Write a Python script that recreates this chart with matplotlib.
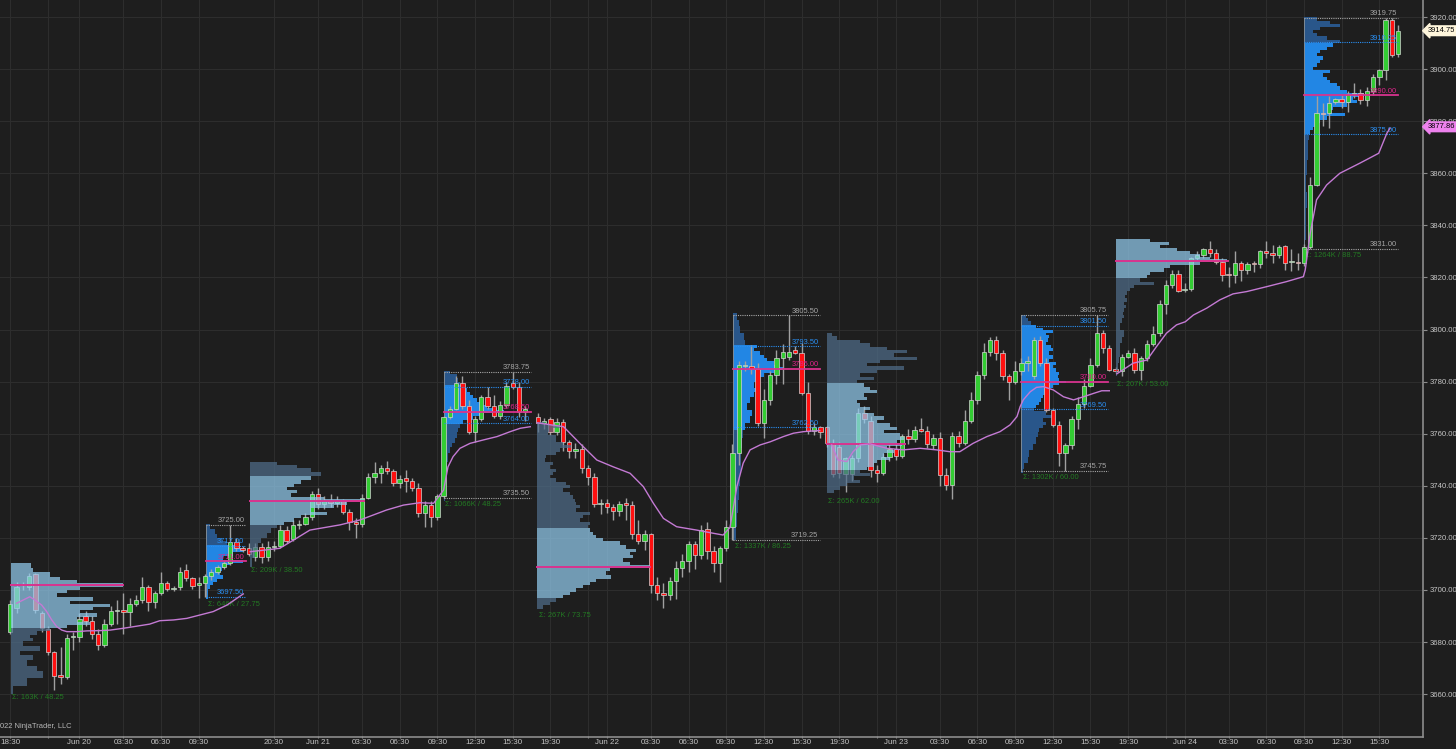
import numpy as np
import matplotlib.pyplot as plt

plt.rcParams['font.family'] = ['Liberation Sans', 'DejaVu Sans']

# ---------------- 30 minute bars (slot 83 is empty) ----------------
opens = [3684, 3693, 3702, 3701, 3706, 3691, 3685, 3676, 3667.5, 3666.5,
         3682, 3682, 3690, 3688, 3683, 3679, 3687, 3692, 3692.5, 3691.5,
         3694.5, 3696, 3701, 3695.5, 3699, 3702.5, 3700.5, 3701, 3707.5, 3704.5,
         3702, 3702.5, 3705.5, 3707, 3709, 3710.5, 3718.5, 3716, 3716, 3712.5,
         3716.5, 3712.5, 3716.5, 3717, 3723, 3719.5, 3725, 3725.5, 3728, 3737,
         3733, 3734, 3733.5, 3734, 3730, 3726, 3725.5, 3735.5, 3743.5, 3745,
         3747, 3745.5, 3741, 3743, 3742, 3739, 3729.5, 3732.5, 3728, 3736,
         3766.5, 3769.5, 3779.5, 3770.5, 3760.5, 3765.5, 3774, 3770.5, 3767, 3771,
         3779.5, 3778, 3768.5, np.nan, 3766.5, 3764, 3765.5, 3760.5, 3764.5, 3757,
         3753.5, 3754, 3747, 3743.5, 3733, 3733.5, 3732, 3730.5, 3733.5, 3732.5,
         3721.5, 3719, 3721.5, 3702, 3699, 3698, 3703.5, 3708.5, 3711, 3717.5,
         3713.5, 3723.5, 3715, 3710.5, 3716, 3724, 3752.5, 3786, 3786, 3785,
         3764, 3773, 3782.5, 3789, 3789.5, 3792, 3791, 3775.5, 3761, 3762.5,
         3762.5, 3756.5, 3755, 3744.5, 3744.5, 3750.5, 3768, 3765, 3746, 3745,
         3751, 3754, 3751.5, 3759, 3758, 3762, 3761, 3755.5, 3758.5, 3744,
         3740.5, 3759, 3756.5, 3765, 3773, 3782.5, 3791.5, 3796, 3791, 3782,
         3780, 3784, 3787, 3782, 3796, 3787, 3769, 3763.5, 3752.5, 3755.5,
         3765.5, 3771.5, 3778.5, 3786.5, 3798.5, 3793, 3785, 3784, 3789.5, 3791,
         3784.5, 3789, 3794.5, 3798.5, 3810, 3817, 3821.5, 3815.25, 3815.5, 3827.5,
         3828.5, 3830.75, 3829.5, 3826, 3821.5, 3821, 3825.5, 3823, 3825.5, 3825,
         3830, 3829.5, 3828.5, 3832, 3826, 3826, 3825.5, 3831.75, 3855.5, 3883.25,
         3883, 3887.5, 3888.5, 3887.5, 3890.5, 3891, 3888, 3891.5, 3897, 3899.5,
         3919, 3906]
highs = [3696, 3703, 3703, 3706.5, 3706.5, 3692, 3686, 3676.5, 3678, 3683,
         3684, 3691, 3692, 3690, 3685, 3689, 3694, 3696, 3699, 3697,
         3698, 3705, 3702, 3699.5, 3707, 3703.5, 3701.5, 3709, 3710, 3705,
         3705, 3706, 3708, 3709.5, 3711, 3725, 3720, 3717, 3718, 3718,
         3718, 3719, 3719, 3725, 3724.5, 3727, 3727, 3729.5, 3738, 3739,
         3736, 3737, 3736, 3735, 3731, 3727.5, 3737, 3745, 3749, 3748,
         3749.5, 3746.5, 3744, 3746, 3743, 3741, 3734, 3734, 3737, 3767,
         3770.5, 3782, 3782, 3773, 3767, 3775, 3778, 3775, 3772.5, 3780,
         3783.75, 3780, 3770.5, np.nan, 3768, 3766, 3766.5, 3766, 3765.5, 3757.5,
         3756.5, 3756, 3748, 3745, 3735, 3735, 3733, 3734, 3735.5, 3734,
         3727, 3723, 3722, 3705, 3702.5, 3705, 3711, 3714, 3719, 3719,
         3725, 3726, 3717, 3717, 3727, 3756, 3788, 3788, 3794, 3787,
         3777, 3784, 3792, 3794.5, 3805.5, 3793.5, 3795, 3780, 3764, 3763,
         3763, 3758, 3757, 3751, 3752, 3770, 3770.5, 3767, 3748, 3752.5,
         3756, 3756, 3760, 3762, 3763, 3766, 3763, 3760, 3760.5, 3747,
         3760.5, 3761, 3769, 3776, 3784, 3795, 3797, 3797.5, 3792, 3783,
         3788, 3789, 3790, 3797, 3797.5, 3789, 3770, 3765, 3756.5, 3767,
         3774, 3781, 3789, 3805.75, 3800, 3794, 3785.5, 3790.5, 3792, 3793,
         3790, 3796, 3801.5, 3811.5, 3819, 3823, 3823, 3818, 3828, 3830,
         3831.5, 3834, 3831, 3827.5, 3824, 3830, 3826.5, 3826, 3826.5, 3830.5,
         3834, 3832.5, 3832.5, 3832.5, 3831, 3829.5, 3833, 3858.5, 3889.5, 3887,
         3889.5, 3889, 3890, 3891.5, 3894.5, 3892.5, 3893, 3898, 3900, 3919.75,
         3919.75, 3917]
lows = [3683, 3691, 3700, 3700, 3691, 3684, 3675, 3661.5, 3664, 3666,
        3677, 3680, 3686, 3681, 3677, 3678, 3686, 3687, 3683, 3686,
        3694, 3695, 3692, 3693, 3698, 3699.5, 3699.5, 3700, 3703.5, 3700.5,
        3697, 3697.5, 3704, 3706, 3708, 3709.5, 3715, 3714.5, 3713, 3711,
        3710.5, 3711, 3715, 3716, 3718, 3719, 3723.5, 3725, 3727, 3731,
        3731, 3732, 3732, 3729, 3723, 3720, 3724, 3735, 3741, 3741,
        3744.5, 3740, 3739, 3737.5, 3738, 3728, 3724, 3724, 3727, 3735.5,
        3765.5, 3769, 3769.5, 3760, 3757, 3765, 3769.5, 3766, 3765.5, 3770,
        3777, 3766.5, 3765, np.nan, 3760.5, 3762, 3759.5, 3759.5, 3753.5, 3750.5,
        3750.5, 3745, 3740.5, 3732, 3729, 3729.5, 3727, 3728.5, 3727, 3719.5,
        3717.5, 3715.5, 3699, 3696, 3693, 3696, 3696.5, 3705, 3707, 3708,
        3712, 3712, 3707, 3703, 3715, 3719.25, 3748, 3784, 3783, 3763,
        3758.5, 3771, 3779, 3779, 3788.5, 3790.5, 3775, 3760, 3759.5, 3758.5,
        3755, 3743.5, 3743, 3737.5, 3742, 3749, 3764, 3743.5, 3741.5, 3744,
        3749.5, 3750, 3750.5, 3756, 3757, 3760.5, 3754.5, 3754, 3740, 3738.5,
        3735, 3755, 3755.5, 3764, 3771.5, 3781, 3790, 3788.5, 3780.5, 3773,
        3779, 3782.5, 3784, 3781, 3786, 3768.5, 3762.5, 3747.5, 3745.75, 3754,
        3762, 3770, 3778, 3785.5, 3791, 3784, 3783.5, 3782, 3789, 3783.5,
        3780.5, 3788, 3793.5, 3797.5, 3806, 3816, 3814.5, 3814.5, 3815, 3826.5,
        3827.5, 3828, 3825, 3818.5, 3816.5, 3818, 3818.5, 3821.5, 3822, 3823.5,
        3827.5, 3825.5, 3827.5, 3823, 3822.5, 3823, 3824.5, 3831, 3855, 3878,
        3877.5, 3886.5, 3885, 3883.5, 3889, 3886.5, 3886, 3890, 3894, 3896,
        3904.5, 3904.5]
closes = [3694.5, 3701, 3702, 3705.5, 3692.5, 3685.5, 3676, 3667, 3666.5, 3681.5,
          3682, 3689, 3688, 3683, 3679, 3687, 3692, 3692.5, 3691.5, 3694.5,
          3696, 3701, 3695.5, 3699, 3702.5, 3700.5, 3700.75, 3707, 3704.5, 3701.5,
          3702.5, 3705.5, 3707, 3709, 3710.5, 3718.5, 3716, 3715.5, 3714, 3716.5,
          3712.5, 3716.5, 3717, 3723, 3719, 3725, 3725.5, 3728, 3737, 3733,
          3734, 3733.5, 3734, 3730, 3726, 3725.5, 3735.5, 3743.5, 3745, 3747,
          3745.5, 3741, 3742.5, 3742, 3739, 3729.5, 3732.5, 3728, 3736, 3766.5,
          3769.5, 3779.5, 3770.5, 3760.5, 3765.5, 3774, 3770.5, 3767, 3771, 3778.5,
          3778, 3768.5, 3769.5, np.nan, 3764, 3765, 3760.5, 3764.5, 3757, 3753.5,
          3754, 3747, 3743.5, 3733, 3733.5, 3732, 3730.5, 3733, 3732.5, 3721.5,
          3719, 3721.5, 3702, 3699, 3698, 3703.5, 3708.5, 3711, 3717.5, 3713.5,
          3723, 3715, 3710.5, 3716, 3724, 3752.5, 3786.5, 3786, 3785, 3764,
          3773, 3782.5, 3789, 3791.5, 3791.5, 3791, 3775.5, 3761, 3762.5, 3760.5,
          3756.5, 3744.5, 3745, 3750.5, 3750.5, 3768, 3765.5, 3746, 3745, 3751,
          3754, 3751.5, 3759, 3758, 3761.5, 3761, 3756, 3758.5, 3744, 3740.5,
          3759, 3756.5, 3765, 3773, 3782.5, 3791.5, 3796, 3791, 3782, 3780,
          3784, 3787, 3788, 3796, 3787, 3769, 3763.5, 3752.5, 3755.5, 3765.5,
          3771.5, 3778.5, 3786.5, 3798.5, 3793, 3784.5, 3784.25, 3789.5, 3791, 3784.5,
          3789, 3794.5, 3798.25, 3810, 3817, 3821.5, 3815, 3815.5, 3827.5, 3828.5,
          3830.75, 3829.5, 3826, 3821, 3821, 3825.5, 3823, 3825, 3825, 3830,
          3829.5, 3828.75, 3831.75, 3825.5, 3826, 3825.5, 3831.75, 3855.5, 3883, 3882.75,
          3887, 3888.5, 3887.5, 3890.5, 3891, 3888, 3891.5, 3897, 3899.5, 3919,
          3905.5, 3914.75]

# ---------------- time axis ----------------
tick_bar = [0, 6, 11, 18, 24, 30, 42, 49, 56, 62, 68, 74, 80, 86, 92, 95, 102, 108, 114,
            120, 126, 132, 138, 141, 148, 154, 160, 166, 172, 178, 184, 187, 194, 200,
            206, 212, 218]
tick_text = ['18:30', '', 'Jun 20', '03:30', '06:30', '09:30', '20:30', 'Jun 21', '03:30',
             '06:30', '09:30', '12:30', '15:30', '19:30', '', 'Jun 22', '03:30', '06:30',
             '09:30', '12:30', '15:30', '19:30', '', 'Jun 23', '03:30', '06:30', '09:30',
             '12:30', '15:30', '19:30', '', 'Jun 24', '03:30', '06:30', '09:30', '12:30',
             '15:30']

# ---------------- volume profiles (price level, volume width) ----------------
p1_price = [3661.5, 3664.75, 3668, 3670, 3672, 3674, 3675.75, 3677.5, 3679.5, 3681, 3682,
            3683.5, 3684.75, 3686, 3687.25, 3688.5, 3690.5, 3691.75, 3693, 3694, 3695,
            3696.25, 3698, 3699.5, 3700.5, 3702, 3703.25, 3704.5, 3705.75, 3707.75, 3709.5]
p1_vol = [2, 16, 32, 26, 16, 22, 9, 29, 12, 22, 19, 26, 39, 56, 79, 66, 86, 69, 82, 99,
          59, 82, 46, 56, 69, 112, 66, 49, 39, 22, 20]
p2_price = [3697.5, 3699.5, 3701.25, 3702.5, 3703.75, 3705, 3706.5, 3707.75, 3709, 3710,
            3711, 3712.25, 3713.5, 3715.5, 3716.5, 3718, 3719.25, 3720.5, 3722.5, 3724.5]
p2_vol = [2, 2, 4, 7, 11, 17, 14, 16, 19, 24, 37, 17, 27, 37, 34, 21, 16, 11, 9, 4]
p3_price = [3710.5, 3714, 3716.5, 3719.25, 3721, 3723, 3724.25, 3725.5, 3727, 3728.25,
            3729.5, 3730.75, 3732, 3733.25, 3734.25, 3735.25, 3736.5, 3737.75, 3739,
            3740.25, 3741.5, 3742.75, 3744.75, 3746, 3747.5, 3748.5]
p3_vol = [2, 5, 8, 11, 17, 21, 27, 34, 44, 51, 77, 61, 84, 97, 114, 74, 41, 47, 37, 44,
          51, 61, 71, 61, 47, 27]
p4_price = [3736, 3739.75, 3743.5, 3747.25, 3751.25, 3753.75, 3755.75, 3757.5, 3759.5,
            3761.5, 3763.25, 3764.5, 3766, 3767.25, 3768.5, 3769.5, 3770.5, 3771.75, 3773,
            3774.25, 3775.5, 3776.75, 3778, 3779.25, 3780.5, 3782, 3783.5]
p4_vol = [1, 1.5, 2, 3, 4, 6, 8, 11, 13, 14, 16, 19, 29, 36, 60, 53, 43, 36, 33, 29, 26,
          23, 19, 16, 14, 13, 6]
p5_price = [3693.5, 3695, 3696, 3697.5, 3698.75, 3700, 3701.25, 3702.5, 3703.75, 3705,
            3706.5, 3707.75, 3709, 3710.25, 3711.5, 3712.75, 3714, 3715.25, 3716.5, 3718,
            3719.25, 3720.5, 3721.75, 3723, 3724.25, 3725.5, 3727, 3728, 3729.5, 3730.75,
            3732, 3733.25, 3734.5, 3735.75, 3737, 3738.5, 3739.75, 3741, 3742.25, 3743.5,
            3744.75, 3746, 3747.25, 3748.5, 3750, 3751.25, 3752.5, 3753.75, 3755, 3756.25,
            3757.5, 3759, 3760, 3761.5, 3762.75, 3764]
p5_vol = [6, 13, 19, 26, 33, 39, 46, 53, 59, 74, 69, 73, 113, 93, 86, 96, 93, 99, 89, 83,
          66, 59, 56, 53, 51, 53, 43, 46, 53, 39, 43, 39, 38, 36, 33, 26, 33, 29, 19, 13,
          16, 19, 13, 16, 8, 9, 19, 23, 34, 26, 19, 19, 11, 16, 23, 8]
p6_price = [3721.75, 3727, 3732, 3737.25, 3742.25, 3747.5, 3752.5, 3756.5, 3760.25,
            3762.75, 3765.25, 3768, 3770.5, 3773, 3775, 3776.75, 3778.75, 3780.75, 3782.5,
            3784, 3785, 3786, 3787, 3788.5, 3789.5, 3791, 3792.25, 3793.5, 3794.75,
            3797.25, 3800, 3802.5, 3805]
p6_vol = [3, 4, 5, 6, 7, 8, 8, 9, 10, 12, 17, 19, 14, 17, 21, 24, 21, 24, 31, 41, 50, 44,
          41, 34, 31, 27, 21, 24, 12, 11, 7, 6, 4]
p7_price = [3737.75, 3739, 3740.5, 3741.5, 3743, 3744.25, 3745.5, 3746.75, 3748, 3749.25,
            3750.5, 3752, 3753.25, 3754.5, 3755.75, 3757, 3758.25, 3759.5, 3760.75, 3762,
            3763.5, 3764.75, 3766, 3767.25, 3768.5, 3769.75, 3771, 3772.5, 3773.5, 3775,
            3776.25, 3777.5, 3778.75, 3780, 3781.25, 3782.5, 3784, 3785.25, 3786.5,
            3787.75, 3789, 3790.25, 3791.5, 3792.75, 3794, 3795.5, 3796.75, 3798]
p7_vol = [7, 13, 20, 33, 27, 43, 33, 40, 47, 50, 63, 57, 67, 60, 75, 70, 77, 73, 57, 70,
          63, 50, 57, 47, 37, 43, 33, 30, 40, 37, 50, 43, 37, 30, 47, 33, 50, 77, 40, 53,
          90, 67, 80, 60, 43, 33, 10, 5]
p8_price = [3745.75, 3747.5, 3750, 3752.5, 3755, 3757.5, 3760, 3761.5, 3762.75, 3764,
            3765.25, 3766.5, 3768, 3769.25, 3770.5, 3771.75, 3773, 3774.25, 3775.5,
            3776.75, 3778, 3779.25, 3780, 3780.75, 3782, 3783.25, 3784.5, 3785.75, 3787,
            3788.25, 3789.5, 3791, 3792.25, 3793.5, 3794.75, 3796, 3797.25, 3798.25,
            3799.25, 3800.25, 3801.25, 3802.5, 3803.75, 3805]
p8_vol = [2, 3, 7, 8, 12, 15, 17, 18, 22, 25, 22, 32, 25, 13, 15, 18, 20, 22, 25, 28, 32,
          38, 45, 38, 37, 38, 35, 32, 35, 28, 32, 28, 32, 30, 25, 27, 28, 25, 32, 22, 15,
          10, 7, 5]
p9_price = [3783.25, 3785.75, 3788.25, 3791, 3793.5, 3796, 3798.5, 3801, 3803.75, 3805,
            3806.25, 3807.5, 3808.75, 3810, 3811.5, 3812.75, 3814, 3815.25, 3816.5,
            3817.75, 3819, 3820.25, 3821.5, 3823, 3824.25, 3825.5, 3826.5, 3827.5, 3828.5,
            3829.5, 3830.5, 3832, 3833, 3834.25]
p9_vol = [1, 2, 3, 4, 4, 6, 8, 4, 6, 8, 7, 8, 10, 8, 11, 9, 11, 14, 18, 38, 24, 31, 34,
          48, 54, 84, 111, 94, 84, 74, 61, 44, 53, 34]
p10_price = [3831.5, 3837, 3843.5, 3849.75, 3856.25, 3862.5, 3867.75, 3871.5, 3874, 3876,
             3877.25, 3878.5, 3880, 3881.25, 3882.5, 3883.75, 3885, 3886.25, 3887.5,
             3888.75, 3890, 3891.5, 3892.75, 3894, 3895.25, 3896.5, 3897.75, 3899, 3900.5,
             3901.5, 3903, 3904.25, 3905.5, 3906.75, 3908, 3909.25, 3910.5, 3912, 3913.25,
             3914.5, 3915.75, 3916.75, 3918, 3919.25]
p10_vol = [1, 2, 2, 3, 2, 3, 4, 4, 5, 6, 9, 13, 16, 23, 41, 26, 29, 43, 53, 49, 60, 43,
           36, 33, 26, 23, 19, 26, 9, 13, 16, 19, 13, 16, 23, 29, 36, 23, 13, 9, 16, 36, 26,
           13]

# overnight (ETH) sessions
eth_start = [0.1, 38.1, 83.9, 130.0, 176.0]
eth_va_lo = [3685, 3725, 3697, 3746, 3819.75]
eth_va_hi = [3710, 3744.25, 3724, 3778.75, 3834.75]
eth_poc = [3702.0, 3734.25, 3709.0, 3756.0, 3826.5]
eth_poc_vol = [112, 114, 113, 78, 112]
eth_low = [3661.5, 3710.25, 3693.0, 3736.5, 3781.75]
eth_sigma = ['Σ: 163K / 48.25', 'Σ: 209K / 38.50', 'Σ: 267K / 73.75',
             'Σ: 265K / 62.00', 'Σ: 207K / 53.00']

# regular (RTH) sessions
rth_start = [31.2, 69.0, 115.1, 161.0, 206.0]
rth_end = [37.5, 82.9, 128.9, 174.8, 221.0]
rth_high = [3725.00, 3783.75, 3805.50, 3805.75, 3919.75]
rth_vah = [3717.00, 3778.00, 3793.50, 3801.50, 3910.25]
rth_poc = [3711.00, 3768.50, 3785.00, 3780.00, 3890.00]
rth_val = [3697.50, 3764.00, 3762.50, 3769.50, 3875.00]
rth_low = [3697.25, 3735.50, 3719.25, 3745.75, 3831.00]
rth_sigma = ['Σ: 646K / 27.75', 'Σ: 1066K / 48.25', 'Σ: 1337K / 86.25',
             'Σ: 1302K / 60.00', 'Σ: 1264K / 88.75']

# VWAP, one line per trading day
vw_a_x = [1.0, 2.1, 3.1, 3.9, 5.0, 5.8, 6.6, 7.4, 8.2, 9.0, 10.6, 12.2, 14.3, 15.9, 18.0,
          19.6, 22.2, 23.8, 26.0, 28.1, 30.2, 32.3, 34.5, 37.1]
vw_a_y = [3694.9, 3696.2, 3697.4, 3696.2, 3694.2, 3691.7, 3688.5, 3685.9, 3684.6, 3684.0,
          3684.0, 3684.3, 3684.4, 3684.6, 3685.3, 3685.9, 3686.9, 3688.2, 3688.5, 3689.1,
          3690.4, 3691.7, 3694.2, 3698.5]
vw_b_x = [38.2, 40.8, 42.9, 45.6, 47.7, 52.5, 55.7, 59.9, 62.6, 65.2, 67.4, 69.0, 69.7,
          70.5, 71.6, 73.2, 75.3, 77.5, 79.6, 81.2, 82.8]
vw_b_y = [3714.7, 3715.4, 3716.0, 3719.9, 3723.0, 3725.0, 3726.9, 3730.7, 3732.6, 3733.5,
          3733.3, 3738.4, 3747.3, 3751.2, 3754.4, 3756.3, 3757.6, 3758.9, 3760.8, 3762.1,
          3762.7]
vw_d_x = [83.9, 88.1, 90.7, 93.4, 96.0, 98.7, 100.8, 102.4, 104.0, 106.1, 109.3, 111.9,
          113.5, 114.6, 115.7, 116.7, 117.8, 119.4, 121.0, 123.1, 124.7, 126.3, 127.9, 128.9]
vw_d_y = [3764.2, 3762.7, 3756.3, 3749.9, 3747.3, 3744.8, 3739.7, 3733.3, 3727.5, 3724.3,
          3723.0, 3721.8, 3721.1, 3724.0, 3739.7, 3748.7, 3753.8, 3755.7, 3756.9, 3758.9,
          3760.2, 3760.8, 3761.1, 3761.2]
vw_f_x = [130.8, 131.8, 133.2, 134.2, 135.3, 136.9, 139.6, 142.2, 144.9, 147.5, 149.6,
          151.2, 153.3, 155.5, 157.6, 159.2, 160.3, 160.8, 161.3, 162.4, 163.4, 164.5,
          166.1, 167.7, 169.3, 170.9, 172.5, 173.8, 175.0]
vw_f_y = [3755.7, 3749.9, 3749.3, 3753.1, 3755.7, 3756.1, 3754.4, 3753.8, 3754.4, 3753.8,
          3753.1, 3753.1, 3756.3, 3758.9, 3760.8, 3763.4, 3766.6, 3770.4, 3773.0, 3776.1,
          3777.8, 3778.1, 3776.8, 3774.2, 3773.0, 3774.2, 3775.5, 3776.5, 3776.5]
vw_g_x = [176.2, 178.8, 181.0, 182.5, 184.1, 185.7, 187.1, 188.4, 190.5, 192.6, 194.7,
          196.9, 200.1, 203.2, 205.9, 206.2, 207.0, 208.0, 209.6, 211.7, 214.9, 217.9,
          219.2, 219.7]
vw_g_y = [3783.0, 3787.1, 3788.3, 3793.4, 3798.6, 3801.8, 3803.0, 3805.6, 3808.2, 3811.4,
          3813.7, 3814.6, 3816.5, 3818.4, 3820.3, 3822.9, 3837.0, 3849.8, 3855.5, 3860.0,
          3863.9, 3867.7, 3875.4, 3877.3]

last_price = 3914.75
vwap_last = 3877.86

# ---------------- style ----------------
BG = '#1e1e1e'
GRID = '#2d2d2d'
AXC = '#8c8c8c'
TXT = '#c4c4c4'
GREEN = '#33cc33'
RED = '#ff1010'
WICK = '#a0a0a0'
ETH_VA, ETH_OUT = '#92cbee', '#4f6d8a'
RTH_VA, RTH_OUT = '#2286e4', '#29568a'
POC_C = '#d8338e'
VWAP_C = '#c47ad4'
GRAY_L = '#a6a6a6'
BLUE_L = '#2a8ff2'
PINK_L = '#e3238c'
SIG_C = '#237a23'
PX = 6.28    # pixels per bar
FS = 5.4

fig = plt.figure(figsize=(14.56, 7.49), dpi=100)
fig.patch.set_facecolor(BG)
ax = fig.add_axes([0, 12 / 749, 1423 / 1456, 737 / 749])
ax.set_facecolor(BG)
ax.set_xlim(-10.3 / PX, (1423 - 10.3) / PX)
ax.set_ylim(3643.55, 3926.55)

for s in ['top', 'left']:
    ax.spines[s].set_visible(False)
for s in ['right', 'bottom']:
    ax.spines[s].set_color(AXC)
    ax.spines[s].set_linewidth(1.2)

ax.yaxis.tick_right()
ax.set_yticks(np.arange(3660, 3921, 20))
ax.set_yticklabels([f'{v:.2f}' for v in np.arange(3660, 3921, 20)])
ax.set_xticks(tick_bar)
ax.set_xticklabels(tick_text, fontfamily=['Liberation Sans Narrow', 'Liberation Sans'])
ax.tick_params(axis='y', colors=AXC, labelcolor=TXT, labelsize=5.6, length=3, pad=2)
ax.tick_params(axis='x', colors=AXC, labelcolor=TXT, labelsize=5.8, length=2,
               pad=0.8, direction='inout')
ax.grid(True, color=GRID, lw=0.8, zorder=0)
ax.set_axisbelow(True)


def profile(x0, price, vol, va_lo, va_hi, c_va, c_out, alpha, z):
    p = np.asarray(price, float)
    w = np.asarray(vol, float) / PX
    mid = (p[1:] + p[:-1]) / 2
    lo = np.r_[p[0] - (mid[0] - p[0]), mid]
    hi = np.r_[mid, p[-1] + (p[-1] - mid[-1])]
    cols = [c_va if va_lo <= q <= va_hi else c_out for q in p]
    ax.barh(lo, w, height=hi - lo, left=x0, align='edge', color=cols,
            alpha=alpha, lw=0, zorder=z)


# RTH profiles sit under the candles
rth_p = [(p2_price, p2_vol), (p4_price, p4_vol), (p6_price, p6_vol),
         (p8_price, p8_vol), (p10_price, p10_vol)]
for k, (pp, vv) in enumerate(rth_p):
    profile(rth_start[k], pp, vv, rth_val[k], rth_vah[k], RTH_VA, RTH_OUT, 1.0, 1)

# candles
o = np.array(opens, float)
h = np.array(highs, float)
l = np.array(lows, float)
c = np.array(closes, float)
idx = np.arange(len(o))
ok = ~np.isnan(o)
ax.vlines(idx[ok], l[ok], h[ok], color=WICK, lw=1.0, zorder=3)
up = c[ok] >= o[ok]
body_lo = np.minimum(o[ok], c[ok])
body_h = np.maximum(np.abs(c[ok] - o[ok]), 0.35)
ax.bar(idx[ok], body_h, 0.7, bottom=body_lo, color=np.where(up, GREEN, RED),
       edgecolor='#d4d4d4', linewidth=0.5, zorder=4)

# ETH profiles are drawn over the candles, semi transparent
eth_p = [(p1_price, p1_vol), (p3_price, p3_vol), (p5_price, p5_vol),
         (p7_price, p7_vol), (p9_price, p9_vol)]
for k, (pp, vv) in enumerate(eth_p):
    profile(eth_start[k], pp, vv, eth_va_lo[k], eth_va_hi[k], ETH_VA, ETH_OUT, 0.72, 5)
    ax.plot([eth_start[k], eth_start[k] + eth_poc_vol[k] / PX], [eth_poc[k]] * 2,
            color=POC_C, lw=1.4, zorder=6)
    ax.annotate(eth_sigma[k], xy=(eth_start[k], eth_low[k]), xytext=(1, -2.5),
                textcoords='offset points', ha='left', va='top', fontsize=FS,
                color=SIG_C, zorder=7)

# RTH boxes and labels
for k in range(5):
    L, R = rth_start[k], rth_end[k]
    ax.plot([L, L], [rth_low[k], rth_high[k]], color='#7d8a96', lw=0.7, zorder=2)
    ax.plot([L, R], [rth_high[k]] * 2, color=GRAY_L, lw=0.8, ls=(0, (1, 1)), zorder=6)
    ax.plot([L, R], [rth_vah[k]] * 2, color=BLUE_L, lw=0.8, ls=(0, (1, 1)), zorder=6)
    ax.plot([L, R], [rth_val[k]] * 2, color=BLUE_L, lw=0.8, ls=(0, (1, 1)), zorder=6)
    ax.plot([L, R], [rth_poc[k]] * 2, color=POC_C, lw=1.3, zorder=6)
    labels = [(rth_high[k], GRAY_L), (rth_vah[k], BLUE_L), (rth_poc[k], PINK_L),
              (rth_val[k], BLUE_L)]
    if rth_val[k] - rth_low[k] > 1:
        ax.plot([L, R], [rth_low[k]] * 2, color=GRAY_L, lw=0.8, ls=(0, (1, 1)), zorder=6)
        labels.append((rth_low[k], GRAY_L))
    for val, col in labels:
        ax.annotate(f'{val:.2f}', xy=(R, val), xytext=(-1, 0.3), textcoords='offset points',
                    ha='right', va='bottom', fontsize=FS, color=col, zorder=7)
    ax.annotate(rth_sigma[k], xy=(L, rth_low[k]), xytext=(1, -2.5),
                textcoords='offset points', ha='left', va='top', fontsize=FS,
                color=SIG_C, zorder=3)

# VWAP
for xs, ys in [(vw_a_x, vw_a_y), (vw_b_x, vw_b_y), (vw_d_x, vw_d_y),
               (vw_f_x, vw_f_y), (vw_g_x, vw_g_y)]:
    ax.plot(xs, ys, color=VWAP_C, lw=1.0, zorder=8)

# right axis price markers
for val, txt, fc in [(last_price, f'{last_price:.2f}', '#fff6dc'),
                     (vwap_last, f'{vwap_last:.2f}', '#ee82ee')]:
    ax.annotate(txt, xy=(1, val), xycoords=('axes fraction', 'data'), xytext=(3.5, 0),
                textcoords='offset points', ha='left', va='center', fontsize=FS,
                color='black', annotation_clip=False, zorder=10,
                bbox=dict(boxstyle='larrow,pad=0.18', fc=fc, ec=fc))

fig.text(0.0, 1 - 726 / 749, '022 NinjaTrader, LLC', fontsize=FS, color='#b8b8b8',
         ha='left', va='center')

fig.savefig('out.png', dpi=100, facecolor=BG)
